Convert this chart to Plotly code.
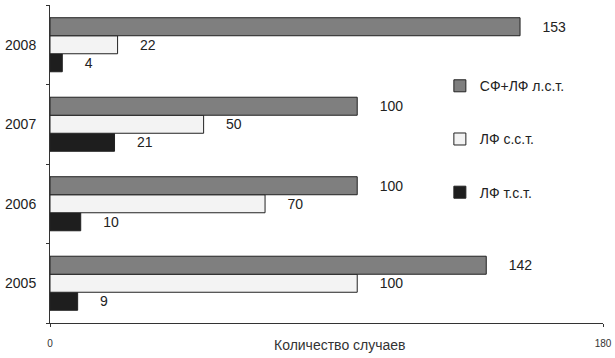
import plotly.graph_objects as go

years = ["2005", "2006", "2007", "2008"]
series_names = ["ЛФ т.с.т.", "ЛФ с.с.т.", "СФ+ЛФ л.с.т."]
lf_tst = [9, 10, 21, 4]
lf_sst = [100, 70, 50, 22]
sf_lf_lst = [142, 100, 100, 153]
x_ticks = [0, 180]
x_title = "Количество случаев"

fills = ["#1e1e1e", "#f3f3f3", "#7f7f7f"]
values = [lf_tst, lf_sst, sf_lf_lst]
ranks = [3, 2, 1]

fig = go.Figure()
for i, (name, vals, col) in enumerate(zip(series_names, values, fills)):
    fig.add_trace(go.Bar(
        y=years, x=vals, name=name, orientation="h",
        marker=dict(color=col, line=dict(color="#222222", width=1)),
        text=vals, texttemplate="     %{x}", textposition="outside",
        textfont=dict(family="Liberation Sans, Arial", size=14, color="#222222"),
        cliponaxis=False, legendgroup=str(i), legendrank=ranks[i],
    ))

fig.update_layout(
    width=615, height=358,
    margin=dict(l=50, r=12, t=5, b=35, autoexpand=False),
    paper_bgcolor="white", plot_bgcolor="white",
    barmode="group", bargap=0.32, bargroupgap=0,
    font=dict(family="Liberation Sans, Arial", size=12, color="#222222"),
    showlegend=True,
    legend=dict(x=0.705, y=0.795, xanchor="left", yanchor="top",
                traceorder="grouped", tracegroupgap=32,
                bgcolor="rgba(0,0,0,0)",
                font=dict(size=14, color="#222222")),
    xaxis=dict(range=[0, 180], tickvals=x_ticks, ticktext=[str(v) for v in x_ticks],
               showgrid=False, zeroline=False, showline=True, linecolor="#333333",
               linewidth=1, ticks="outside", ticklen=3, tickcolor="#333333",
               ticklabelstandoff=8,
               tickfont=dict(size=10, color="#333333"), automargin=False),
    yaxis=dict(type="category", categoryorder="array", categoryarray=years,
               showgrid=False, showline=True, linecolor="#333333", linewidth=1,
               ticks="outside", ticklen=3, tickson="boundaries", tickcolor="#333333",
               ticklabelstandoff=10,
               tickfont=dict(size=14, color="#222222"), automargin=False),
    annotations=[dict(text=x_title, xref="paper", yref="paper", x=0.525, y=0,
                      yshift=-22, showarrow=False, yanchor="middle",
                      font=dict(size=14, color="#333333"))],
)

fig.write_html("out.html", config={"displayModeBar": False},
               post_script="document.body.style.margin='0px';")
